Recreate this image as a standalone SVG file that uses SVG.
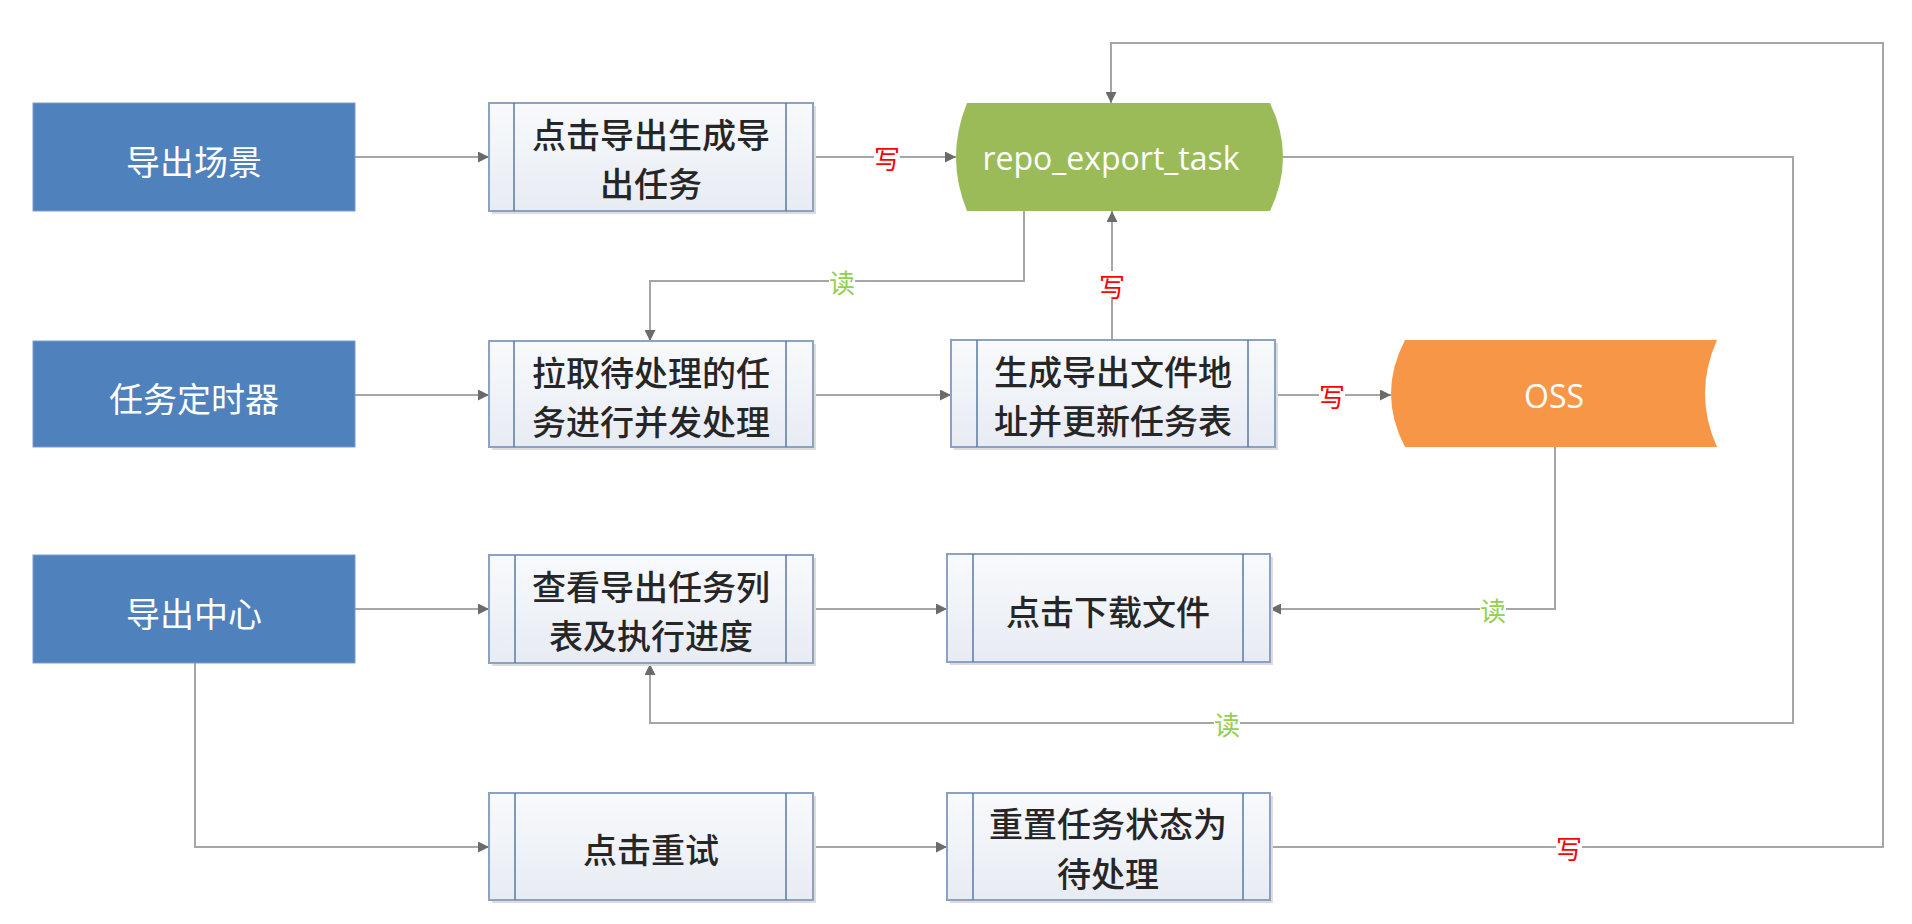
<svg xmlns="http://www.w3.org/2000/svg" width="1912" height="924" viewBox="0 0 1912 924">
  <defs>
    <linearGradient id="procFill" x1="0" y1="0" x2="0" y2="1">
      <stop offset="0" stop-color="#F8FAFC"/>
      <stop offset="1" stop-color="#E7EBF3"/>
    </linearGradient>
    <marker id="arrow" markerUnits="userSpaceOnUse" viewBox="0 0 10 10" refX="10" refY="5" markerWidth="11" markerHeight="11" orient="auto">
      <path d="M0,0 L10,5 L0,10 Z" fill="#6B6B6B"/>
    </marker>
    <style>
      .term { fill: #4F81BD; stroke: #7A9CCB; stroke-width: 1; }
      .termText { fill: #FFFFFF; font-family: "Noto Sans CJK SC", sans-serif; font-size: 34px; text-anchor: middle; dominant-baseline: central; }
      .shadow { fill: #DCDCDC; }
      .proc { fill: url(#procFill); stroke: #8DA2C2; stroke-width: 2; }
      .procBar { stroke: #5A79A6; stroke-width: 1.5; }
      .procText { fill: #262626; font-family: "Noto Sans CJK SC", sans-serif; font-size: 34px; font-weight: 500; text-anchor: middle; dominant-baseline: central; }
      .dataText { fill: #FFFFFF; font-family: "Open Sans", "Noto Sans CJK SC", sans-serif; font-size: 32px; text-anchor: middle; dominant-baseline: central; }
      .link { fill: none; stroke: #A6A6A6; stroke-width: 2; }
      .arrowed { marker-end: url(#arrow); }
      .labelBg { fill: #FFFFFF; }
      .write { fill: #FF0000; font-family: "Noto Sans CJK SC", sans-serif; font-size: 26px; text-anchor: middle; dominant-baseline: central; }
      .read { fill: #92D050; font-family: "Noto Sans CJK SC", sans-serif; font-size: 26px; text-anchor: middle; dominant-baseline: central; }
    </style>
  </defs>

  <rect width="1912" height="924" fill="#FFFFFF"/>

  <!-- connectors -->
  <g id="connectors">
    <path class="link arrowed" d="M355,157 H489"/>
    <path class="link arrowed" d="M813,157 H956"/>
    <path class="link arrowed" d="M1283,157 H1793 V723 H650 V664"/>
    <path class="link arrowed" d="M1269,847 H1883 V43 H1111 V103"/>
    <path class="link arrowed" d="M1024,211 V281 H650 V341"/>
    <path class="link arrowed" d="M1112,340 V211"/>
    <path class="link arrowed" d="M355,395 H489"/>
    <path class="link arrowed" d="M813,395 H951"/>
    <path class="link arrowed" d="M1275,395 H1391"/>
    <path class="link arrowed" d="M1555,447 V609 H1270"/>
    <path class="link arrowed" d="M355,609 H489"/>
    <path class="link arrowed" d="M813,609 H947"/>
    <path class="link arrowed" d="M195,663 V847 H489"/>
    <path class="link arrowed" d="M813,847 H947"/>

    <!-- edge labels -->
    <rect class="labelBg" x="874" y="143" width="26" height="28"/>
    <text class="write" x="887" y="157">写</text>
    <rect class="labelBg" x="829" y="267" width="26" height="28"/>
    <text class="read" x="842" y="281">读</text>
    <rect class="labelBg" x="1099" y="271" width="26" height="28"/>
    <text class="write" x="1112" y="285">写</text>
    <rect class="labelBg" x="1319" y="381" width="26" height="28"/>
    <text class="write" x="1332" y="395">写</text>
    <rect class="labelBg" x="1480" y="595" width="26" height="28"/>
    <text class="read" x="1493" y="609">读</text>
    <rect class="labelBg" x="1214" y="709" width="26" height="28"/>
    <text class="read" x="1227" y="723">读</text>
    <rect class="labelBg" x="1556" y="833" width="26" height="28"/>
    <text class="write" x="1569" y="847">写</text>
  </g>

  <!-- entry points -->
  <g id="scene-export">
    <rect class="term" x="33" y="103" width="322" height="108"/>
    <text class="termText" x="194" y="160">导出场景</text>
  </g>
  <g id="task-timer">
    <rect class="term" x="33" y="341" width="322" height="106"/>
    <text class="termText" x="194" y="397">任务定时器</text>
  </g>
  <g id="export-center">
    <rect class="term" x="33" y="555" width="322" height="108"/>
    <text class="termText" x="194" y="612">导出中心</text>
  </g>

  <!-- process steps -->
  <g id="create-task">
    <rect class="shadow" x="492" y="106" width="324" height="108"/>
    <rect class="proc" x="489" y="103" width="324" height="108"/>
    <line class="procBar" x1="514" y1="103" x2="514" y2="211"/>
    <line class="procBar" x1="786" y1="103" x2="786" y2="211"/>
    <text class="procText" x="651" y="133">点击导出生成导</text>
    <text class="procText" x="651" y="182">出任务</text>
  </g>
  <g id="pull-tasks">
    <rect class="shadow" x="492" y="344" width="324" height="106"/>
    <rect class="proc" x="489" y="341" width="324" height="106"/>
    <line class="procBar" x1="514" y1="341" x2="514" y2="447"/>
    <line class="procBar" x1="786" y1="341" x2="786" y2="447"/>
    <text class="procText" x="651" y="371">拉取待处理的任</text>
    <text class="procText" x="651" y="420">务进行并发处理</text>
  </g>
  <g id="build-file">
    <rect class="shadow" x="954" y="343" width="324" height="107"/>
    <rect class="proc" x="951" y="340" width="324" height="107"/>
    <line class="procBar" x1="977" y1="340" x2="977" y2="447"/>
    <line class="procBar" x1="1248" y1="340" x2="1248" y2="447"/>
    <text class="procText" x="1113" y="370">生成导出文件地</text>
    <text class="procText" x="1113" y="419">址并更新任务表</text>
  </g>
  <g id="view-list">
    <rect class="shadow" x="492" y="558" width="324" height="108"/>
    <rect class="proc" x="489" y="555" width="324" height="108"/>
    <line class="procBar" x1="515" y1="555" x2="515" y2="663"/>
    <line class="procBar" x1="786" y1="555" x2="786" y2="663"/>
    <text class="procText" x="651" y="585">查看导出任务列</text>
    <text class="procText" x="651" y="634">表及执行进度</text>
  </g>
  <g id="download-file">
    <rect class="shadow" x="950" y="557" width="323" height="108"/>
    <rect class="proc" x="947" y="554" width="323" height="108"/>
    <line class="procBar" x1="973" y1="554" x2="973" y2="662"/>
    <line class="procBar" x1="1243" y1="554" x2="1243" y2="662"/>
    <text class="procText" x="1108" y="610">点击下载文件</text>
  </g>
  <g id="retry">
    <rect class="shadow" x="492" y="796" width="324" height="107"/>
    <rect class="proc" x="489" y="793" width="324" height="107"/>
    <line class="procBar" x1="515" y1="793" x2="515" y2="900"/>
    <line class="procBar" x1="786" y1="793" x2="786" y2="900"/>
    <text class="procText" x="651" y="848">点击重试</text>
  </g>
  <g id="reset-status">
    <rect class="shadow" x="950" y="796" width="323" height="107"/>
    <rect class="proc" x="947" y="793" width="323" height="107"/>
    <line class="procBar" x1="973" y1="793" x2="973" y2="900"/>
    <line class="procBar" x1="1243" y1="793" x2="1243" y2="900"/>
    <text class="procText" x="1108" y="822">重置任务状态为</text>
    <text class="procText" x="1108" y="872">待处理</text>
  </g>

  <!-- data stores -->
  <g id="repo-export-task">
    <path d="M967,103 H1270 Q1296,157 1270,211 H967 Q945,157 967,103 Z" fill="#9BBB59"/>
    <text class="dataText" x="1111" y="157">repo_export_task</text>
  </g>
  <g id="oss">
    <path d="M1405,340 H1717 Q1693,393.5 1717,447 H1405 Q1377,393.5 1405,340 Z" fill="#F79646"/>
    <text class="dataText" x="1554" y="395">OSS</text>
  </g>
</svg>
